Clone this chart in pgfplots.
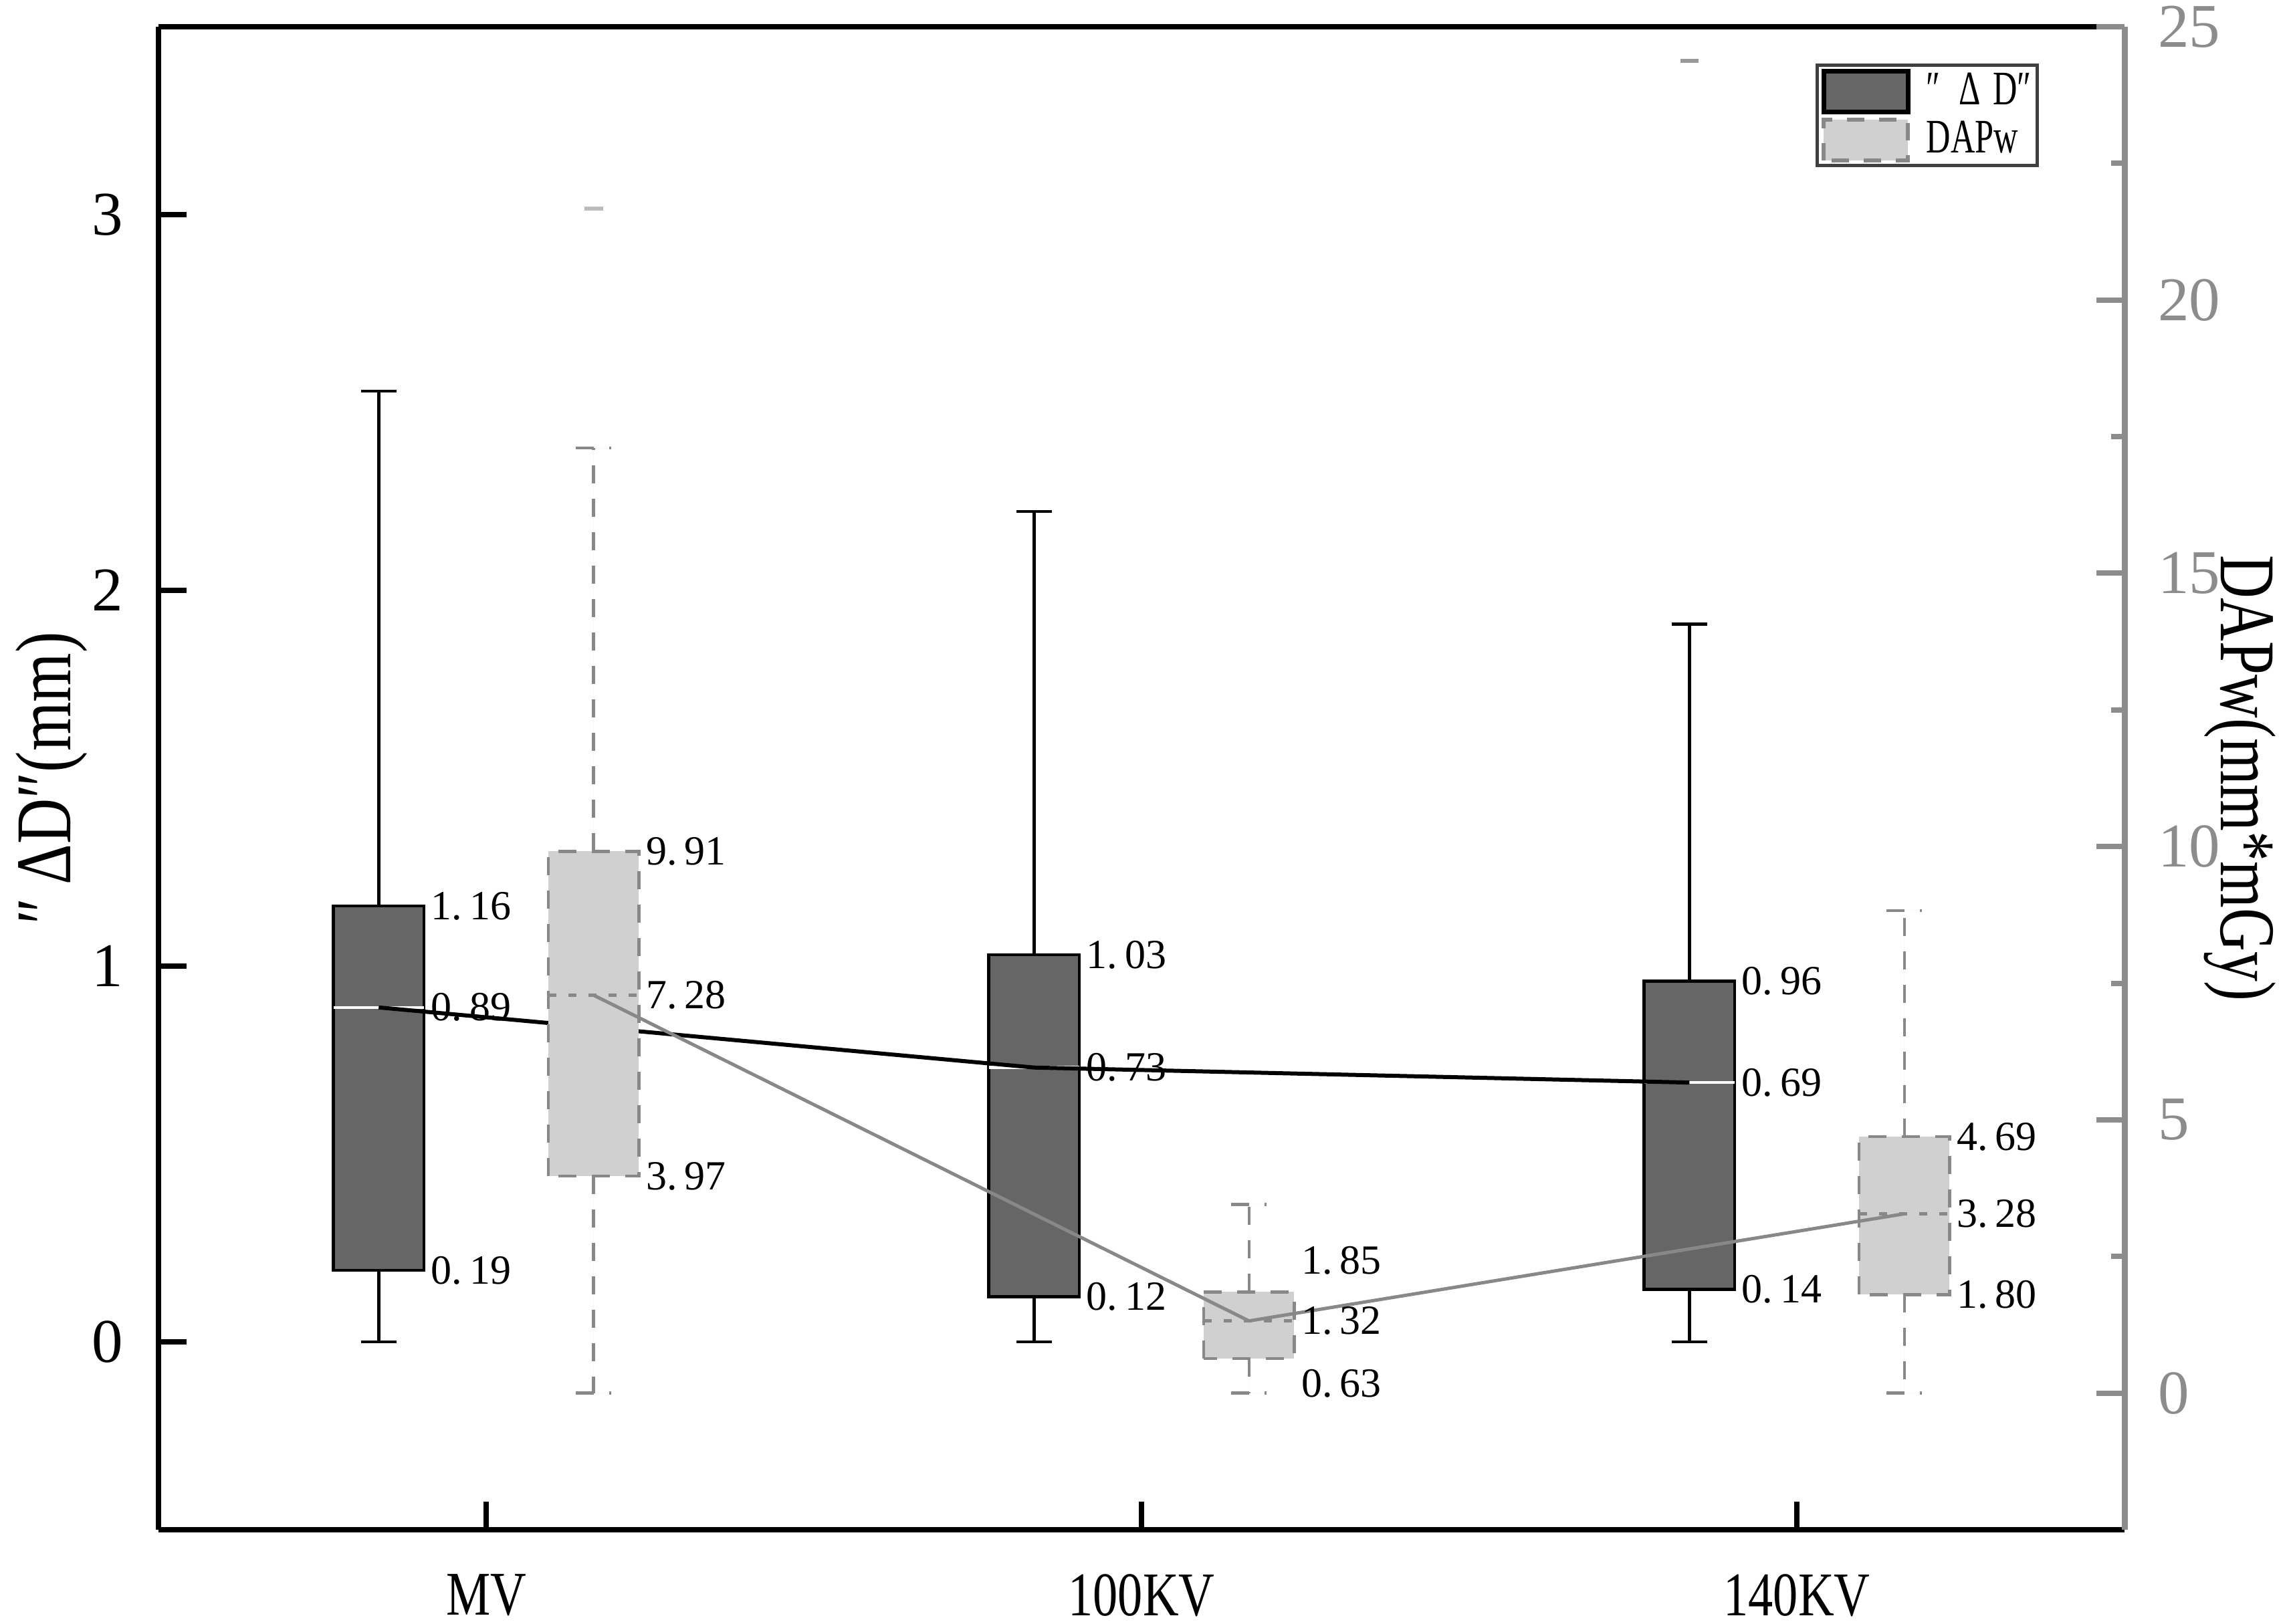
\documentclass[border=0pt]{standalone}
\usepackage{fontspec}
\setmainfont{Liberation Serif}
\newfontfamily\cond{Liberation Serif}[FakeStretch=0.8]
\newfontfamily\condy{Liberation Serif}[FakeStretch=0.76]
\newfontfamily\condx{Liberation Serif}[FakeStretch=0.7]
\usepackage{pgfplots}
\pgfplotsset{compat=1.18}
\usepgfplotslibrary{statistics}

\definecolor{dbox}{HTML}{666666}
\definecolor{lbox}{HTML}{D0D0D0}
\definecolor{gline}{HTML}{888888}
\definecolor{raxis}{HTML}{8C8C8C}
\definecolor{mk1}{HTML}{999999}
\definecolor{mk2}{HTML}{BBBBBB}

\newcommand{\vl}[2]{#1.\kern1.1pt#2}

\pgfplotsset{
  mybase/.style={
    scale only axis, width=294pt, height=224.8pt,
    at={(23.7pt,14.1pt)}, anchor=south west,
    xmin=-0.5, xmax=2.5,
    clip=false,
    tick align=inside,
    major tick length=4.2pt, minor tick length=2pt,
    boxplot/draw direction=y,
  },
}
\tikzset{lab/.style={anchor=west, inner sep=0pt, xshift=0.9pt, font=\fontsize{6.2}{7}\selectfont}}

\begin{document}
\begin{tikzpicture}
\path[use as bounding box] (0,0) rectangle (342pt,242.9pt);

% ---------------- left axis : "Delta D" ----------------
\begin{axis}[mybase,
  ymin=-0.5, ymax=3.5,
  axis x line*=box, axis y line*=left,
  axis line style={-, line width=0.8pt, black},
  xtick={0,1,2}, xticklabels={MV,100KV,140KV},
  xtick pos=left,
  ytick={0,1,2,3}, ytick pos=left,
  minor tick num=0,
  tick style={line width=0.8pt, black},
  xticklabel style={font=\cond\fontsize{9.3}{11}\selectfont, yshift=-3.1pt},
  yticklabel style={font=\fontsize{9.3}{11}\selectfont, xshift=-1.8pt},
  /pgf/number format/assume math mode=true,
  every axis y label/.style={at={(axis description cs:-0.0446,0.5)}, anchor=base, rotate=90,
     font=\cond\fontsize{11.8}{13}\selectfont},
  ylabel={″\,ΔD″(mm)},
]
\addplot[draw=black, fill=dbox, line width=0.45pt,
  boxplot prepared={draw direction=y, draw position=-0.164, lower whisker=0, lower quartile=0.19,
    median=0.89, upper quartile=1.16, upper whisker=2.53,
    box extend=0.138, whisker extend=0.054,
    every median/.style={draw=white, line width=0.45pt}}] coordinates {};
\addplot[draw=black, fill=dbox, line width=0.45pt,
  boxplot prepared={draw direction=y, draw position=0.836, lower whisker=0, lower quartile=0.12,
    median=0.73, upper quartile=1.03, upper whisker=2.21,
    box extend=0.138, whisker extend=0.054,
    every median/.style={draw=white, line width=0.45pt}}] coordinates {};
\addplot[draw=black, fill=dbox, line width=0.45pt,
  mark=-, mark size=1.35pt, mark options={solid, draw=mk1, line width=0.6pt},
  boxplot prepared={draw direction=y, draw position=1.836, lower whisker=0, lower quartile=0.14,
    median=0.69, upper quartile=0.96, upper whisker=1.91,
    box extend=0.138, whisker extend=0.054,
    every median/.style={draw=white, line width=0.45pt}}] coordinates {(0,3.41)};
\addplot[black, line width=0.6pt, mark=none] coordinates {(-0.164,0.89) (0.836,0.73) (1.836,0.69)};

\node[lab] at (axis cs:-0.095,1.16) {\vl{1}{16}};
\node[lab] at (axis cs:-0.095,0.89) {\vl{0}{89}};
\node[lab] at (axis cs:-0.095,0.19) {\vl{0}{19}};
\node[lab] at (axis cs:0.905,1.03) {\vl{1}{03}};
\node[lab] at (axis cs:0.905,0.73) {\vl{0}{73}};
\node[lab] at (axis cs:0.905,0.12) {\vl{0}{12}};
\node[lab] at (axis cs:1.905,0.96) {\vl{0}{96}};
\node[lab] at (axis cs:1.905,0.69) {\vl{0}{69}};
\node[lab] at (axis cs:1.905,0.14) {\vl{0}{14}};
\end{axis}

% ---------------- right axis : DAPw ----------------
\begin{axis}[mybase,
  ymin=-2.5, ymax=25,
  axis x line=none, axis y line*=right,
  axis line style={-, line width=0.9pt, raxis},
  ytick={0,5,10,15,20,25}, minor ytick={2.5,7.5,12.5,17.5,22.5},
  ytick pos=right, yticklabel pos=right,
  tick style={line width=0.8pt, raxis},
  yticklabel style={font=\fontsize{9.3}{11}\selectfont, text=raxis, xshift=1.5pt},
  /pgf/number format/assume math mode=true,
  every axis y label/.style={at={(axis description cs:1.0492,0.5)}, anchor=base, rotate=-90,
     font=\condy\fontsize{11.8}{13}\selectfont},
  ylabel={DAPw(mm*mGy)},
  legend image code/.code={\draw[#1] (0pt,-3.05pt) rectangle (12.6pt,3.05pt);},
  legend style={at={(0.9565,0.9755)}, anchor=north east, draw=black!75, line width=0.5pt,
    fill=white, inner xsep=0.6pt, inner ysep=0.5pt, row sep=0.5pt, column sep=2.1pt,
    font=\condx\fontsize{7.2}{8}\selectfont,
    nodes={inner sep=0.3pt, text height=4.8pt, text depth=0.9pt},
    cells={anchor=west}},
]
\addplot[forget plot, draw=gline, fill=lbox, line width=0.45pt, dash pattern=on 2.7pt off 2.3pt,
  mark=-, mark size=1.4pt, mark options={solid, draw=mk2, line width=0.6pt},
  boxplot prepared={draw direction=y, draw position=0.164, lower whisker=0, lower quartile=3.97,
    median=7.28, upper quartile=9.91, upper whisker=17.29,
    box extend=0.138, whisker extend=0.054,
    every median/.style={dash pattern=on 1.2pt off 1.8pt}}] coordinates {(0,21.67)};
\addplot[forget plot, draw=gline, fill=lbox, line width=0.45pt, dash pattern=on 2.7pt off 2.3pt,
  boxplot prepared={draw direction=y, draw position=1.164, lower whisker=0, lower quartile=0.63,
    median=1.32, upper quartile=1.85, upper whisker=3.45,
    box extend=0.138, whisker extend=0.054,
    every median/.style={dash pattern=on 1.2pt off 1.8pt}}] coordinates {};
\addplot[forget plot, draw=gline, fill=lbox, line width=0.45pt, dash pattern=on 2.7pt off 2.3pt,
  boxplot prepared={draw direction=y, draw position=2.164, lower whisker=0, lower quartile=1.80,
    median=3.28, upper quartile=4.69, upper whisker=8.83,
    box extend=0.138, whisker extend=0.054,
    every median/.style={dash pattern=on 1.2pt off 1.8pt}}] coordinates {};
\addplot[forget plot, gline, line width=0.5pt, mark=none] coordinates {(0.164,7.28) (1.164,1.32) (2.164,3.28)};

\node[lab] at (axis cs:0.233,9.91) {\vl{9}{91}};
\node[lab] at (axis cs:0.233,7.28) {\vl{7}{28}};
\node[lab] at (axis cs:0.233,3.97) {\vl{3}{97}};
\node[lab] at (axis cs:1.233,2.42) {\vl{1}{85}};
\node[lab] at (axis cs:1.233,1.32) {\vl{1}{32}};
\node[lab] at (axis cs:1.233,0.18) {\vl{0}{63}};
\node[lab] at (axis cs:2.233,4.69) {\vl{4}{69}};
\node[lab] at (axis cs:2.233,3.28) {\vl{3}{28}};
\node[lab] at (axis cs:2.233,1.80) {\vl{1}{80}};

\addlegendimage{fill=dbox, draw=black, line width=0.7pt, solid}
\addlegendentry{″\hspace{2.8pt}Δ\hspace{1.8pt}D″}
\addlegendimage{fill=lbox, draw=gline, line width=0.6pt, dash pattern=on 2.6pt off 2.2pt}
\addlegendentry{DAPw}
\end{axis}
\end{tikzpicture}
\end{document}
